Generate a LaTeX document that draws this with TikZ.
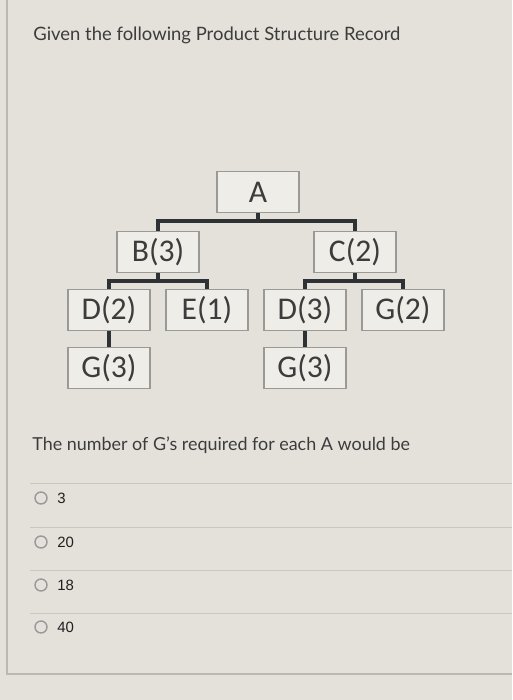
\documentclass[tikz,border=0pt]{standalone}
\usepackage{fontspec}
\setmainfont{Lato}
\newfontfamily\boxfont{Carlito}
\newfontfamily\optfont{Liberation Sans}
\usepackage{tikz}

\definecolor{screen}{HTML}{E4E1DA}
\definecolor{boxfill}{HTML}{EFEDE8}
\definecolor{boxline}{HTML}{9A9995}
\definecolor{barline}{HTML}{2E3234}
\definecolor{textgrey}{HTML}{3C3C3C}
\definecolor{rulegrey}{HTML}{C9C6BF}

\begin{document}
\begin{tikzpicture}[x=0.02cm, y=-0.02cm,
    part/.style = {draw = boxline, fill = boxfill, thick, minimum width = 1.64cm,
                   minimum height = 0.82cm, inner sep = 0pt,
                   font = \boxfont\fontsize{18}{20}\selectfont, text = textgrey},
    bar/.style = {draw = barline, line width = 2.6pt},
    radio/.style = {circle, draw = gray!80, thick, minimum size = 0.24cm, inner sep = 0pt},
    choice/.style = {anchor = west, inner sep = 0pt, text = gray!25!black,
                     font = \optfont\fontsize{8.5}{10}\selectfont}]

        \fill[screen] (0,0) rectangle (512,700);
        \useasboundingbox (0,0) rectangle (512,700);
        \draw[rulegrey!80!gray, thick] (7,0) -- (7,674) -- (512,674);

        \node (title)[anchor = base west, inner sep = 0pt, text = textgrey,
        font = \fontsize{10.5}{12}\selectfont] at (33,40) {Given the following Product Structure Record};

        \node (A)[part] at (258,192) {A};
        \node (B)[part] at (158,252) {B(3)};
        \node (C)[part] at (355,252) {C(2)};
        \node (D_left)[part] at (109,310) {D(2)};
        \node (E)[part] at (207,310) {E(1)};
        \node (D_right)[part] at (305,310) {D(3)};
        \node (G_right)[part] at (403,310) {G(2)};
        \node (G_left_low)[part] at (109,368) {G(3)};
        \node (G_right_low)[part] at (305,368) {G(3)};

        \coordinate (A_bar) at (258,221);
        \coordinate (B_bar) at (158,281);
        \coordinate (C_bar) at (355,281);

        \draw[bar] (A.south) -- (A_bar) -| (B.north);
        \draw[bar] (A_bar) -| (C.north);
        \draw[bar] (B.south) -- (B_bar) -| (D_left.north);
        \draw[bar] (B_bar) -| (E.north);
        \draw[bar] (C.south) -- (C_bar) -| (D_right.north);
        \draw[bar] (C_bar) -| (G_right.north);
        \draw[bar] (D_left.south) -- (G_left_low.north);
        \draw[bar] (D_right.south) -- (G_right_low.north);

        \node (question)[anchor = base west, inner sep = 0pt, text = textgrey,
        font = \fontsize{10.2}{12}\selectfont] at (32,450) {The number of G's required for each A would be};

        \draw[rulegrey] (30,483) -- (512,483);
        \draw[rulegrey] (30,527) -- (512,527);
        \draw[rulegrey] (30,570) -- (512,570);
        \draw[rulegrey] (30,613) -- (512,613);

        \node (radio_1)[radio] at (41,498) {};
        \node (radio_2)[radio] at (41,542) {};
        \node (radio_3)[radio] at (41,585) {};
        \node (radio_4)[radio] at (41,627) {};
        \node (choice_1)[choice] at (57,498) {3};
        \node (choice_2)[choice] at (57,542) {20};
        \node (choice_3)[choice] at (57,585) {18};
        \node (choice_4)[choice] at (57,627) {40};
    \end{tikzpicture}
\end{document}
